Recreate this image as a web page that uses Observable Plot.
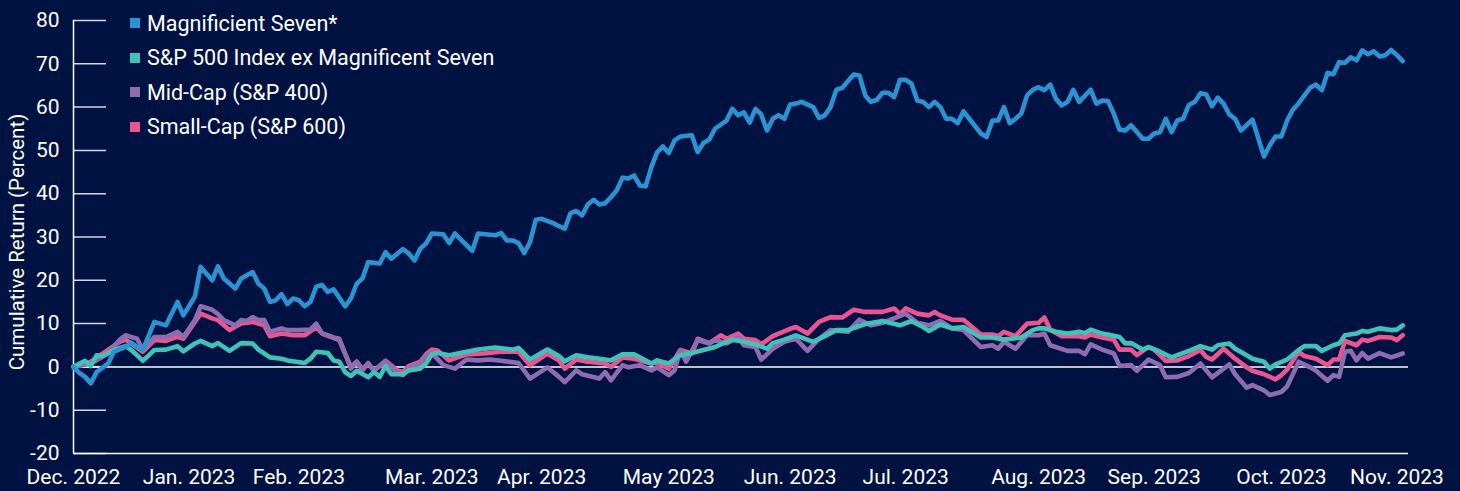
<!DOCTYPE html>
<html><head><meta charset="utf-8">
<script src="https://cdn.jsdelivr.net/npm/d3@7"></script>
<script src="https://cdn.jsdelivr.net/npm/@observablehq/plot@0.6"></script>
<style>
html,body{margin:0;padding:0;background:#001242;}
#wrap{position:relative;width:1460px;height:491px;font-family:Roboto, sans-serif;}
#wrap svg{position:absolute;left:0;top:0;}
#legend{position:absolute;left:130px;top:6px;color:#fff;font-size:21.5px;z-index:2;}
.item{display:flex;align-items:center;height:34.5px;white-space:nowrap;}
.sw{width:10px;height:10px;margin-right:7px;flex:none;}
</style></head><body><div id="wrap"><div id="legend"></div></div>
<script>
const seriesNames = ["Magnificient Seven*", "S&P 500 Index ex Magnificent Seven", "Mid-Cap (S&P 400)", "Small-Cap (S&P 600)"];
const seriesColors = ["#2b93d1", "#41c2b8", "#8d6cb0", "#ea5590"];
const monthEndDay = [0,20,39,62,81,103,124,144,167,187,209,229];
const monthLabels = ["Dec. 2022","Jan. 2023","Feb. 2023","Mar. 2023","Apr. 2023","May 2023","Jun. 2023","Jul. 2023","Aug. 2023","Sep. 2023","Oct. 2023","Nov. 2023"];
const yTicks = [-20,-10,0,10,20,30,40,50,60,70,80];
const yLabel = "Cumulative Return (Percent)";

const mag7Day = [0,1,2,3,4,6,7,9,10,11,12,14,16,18,19,21,22,24,25,26,28,29,31,32,33,34,35,36,37,38,39,40,41,42,43,44,45,47,48,49,50,51,53,54,55,57,58,59,60,61,62,64,65,66,68,69,70,73,74,75,76,77,78,79,80,81,83,84,85,86,87,88,89,90,91,92,93,94,95,96,97,98,99,100,101,102,103,104,105,107,108,109,110,111,113,114,115,116,117,118,119,120,121,122,123,124,125,126,128,129,130,131,132,133,134,135,136,137,138,139,140,141,142,143,144,145,146,147,148,149,150,151,152,153,154,155,157,158,159,160,161,162,163,164,165,166,167,168,169,170,171,172,173,174,176,177,178,179,180,181,182,183,185,186,187,188,189,190,191,192,193,194,195,196,197,198,199,200,201,202,204,206,207,208,209,210,211,212,213,214,215,216,217,218,219,220,221,222,223,224,225,226,227,228,229,230];
const mag7Val = [0,-1.4,-2.3,-3.8,-1.2,0.8,3.5,4.6,5.6,4.6,4.0,10.4,9.6,15,11.9,16.2,23.1,20,23.2,20.4,18.1,20.4,21.9,19.2,18.1,15,15.4,16.8,14.5,15.8,15.4,14,15,18.5,18.9,17.3,17.9,14,15.8,19.2,20.4,24.2,23.9,26.5,25,27.2,26.2,24.6,27.3,28.5,30.8,30.6,28.6,30.8,28.1,26.8,30.8,30.4,30.9,29.2,29.2,28.6,26.3,28.8,34,34.2,33.2,32.5,31.9,35.5,36,35,37.5,38.6,37.5,37.8,39.2,40.8,43.7,43.5,44.2,41.9,41.7,46.2,49.6,50.9,49.4,52.3,53.2,53.5,49.6,51.7,52.5,55,56.9,59.6,58.1,58.8,56.4,59.6,58.3,54.6,57.3,58.1,57.3,60.6,60.8,61.2,60,57.5,58.1,60,64,64.4,66,67.5,67.3,62.7,61.2,61.7,63.3,63.3,62.3,66.3,66.3,65.4,61.5,61.2,60,61.2,60,57.3,57.3,56.3,59,57.3,53.9,53.1,56.9,56.9,60,56.3,57.3,58.5,62.7,64,64.6,63.9,65.2,61.9,60.4,61.2,64,61.2,64,60.8,61.5,61.4,58.5,54.8,54.6,55.8,52.7,52.7,53.9,54.2,57.3,54.2,56.9,57.3,60.5,61.2,63.2,62.9,60.2,62.2,60.8,58.3,57.3,54.6,57.1,48.6,51.2,53.2,53.2,56.9,59.4,60.9,62.7,64.5,65.2,63.9,67.9,67.6,70.4,70.2,71.5,70.8,73.1,72.2,72.9,71.7,72,73.2,72,70.6];

const exDay = [0,2,3,4,5,7,9,10,11,12,14,16,18,19,21,22,24,25,27,29,31,32,34,36,37,40,41,42,44,45,46,47,48,49,51,52,53,54,55,57,58,60,61,62,63,65,68,70,73,76,77,79,82,84,85,87,89,92,93,95,97,100,101,103,105,107,109,111,113,114,116,118,120,121,123,125,128,130,132,134,137,140,143,145,147,148,150,152,154,157,159,161,164,166,167,168,170,172,174,175,176,178,179,181,182,183,185,186,188,190,191,193,195,197,198,200,201,203,204,206,207,208,210,212,213,215,216,218,219,220,222,223,224,226,228,229,230];
const exVal = [0,1.4,0.2,2.7,2.5,3.9,4.8,3.9,2.7,1.4,3.9,4,4.8,3.6,5.4,6,4.8,5.5,3.7,5.5,5.4,4,2.2,1.9,1.5,0.9,1.9,3.5,3.2,1.5,1.2,-1.2,-2.1,-0.9,-2.4,-1.2,-2.3,0.2,-1.7,-1.7,-0.8,-0.4,0.8,2.9,3.2,2.7,3.5,4,4.5,4,4.4,1.7,4,2.5,1.3,2.7,2.2,1.7,1.5,2.9,2.9,0.8,1.5,0.8,2.7,3.2,3.9,4.6,5.8,6.3,5.8,5.2,4.2,5.5,6.3,7.3,5.8,7.1,8.5,8.5,9.9,10.6,9.6,10.6,9.2,8.3,9.8,8.9,9.2,6.8,6.8,6.3,6.8,8.5,8.9,8.9,8.1,7.7,8.1,7.8,8.6,7.7,7.5,6.9,5.4,5.5,4,4.6,3.5,2.2,2.7,3.7,4.8,4,5,5.4,4.2,2.7,1.9,1.2,-0.4,0.6,1.7,3.9,4.8,4.8,3.7,5,5.4,7.3,7.7,8.3,8.1,8.9,8.5,8.6,9.6];

const midDay = [0,3,6,8,9,11,12,14,16,18,19,21,22,24,25,26,28,29,30,31,32,33,34,36,37,39,41,42,43,45,46,47,48,49,50,51,52,54,56,57,58,60,61,62,64,66,68,70,72,74,77,79,82,84,85,87,88,91,92,93,95,96,98,100,101,103,104,105,106,108,110,111,113,115,116,118,119,121,123,125,127,129,131,134,136,138,140,142,144,146,148,150,152,154,157,159,160,161,163,165,167,168,169,172,174,175,176,178,180,181,183,184,186,188,189,191,193,195,196,197,200,201,203,204,206,207,209,210,212,214,215,217,218,219,220,221,222,223,224,226,228,230];
const midVal = [0,0.8,3.1,6.3,7.3,6.5,4,6.9,6.9,8.1,6.9,10.8,14,13.2,12.2,10.8,9.6,10.8,10.6,11.5,10.8,10.8,8.1,8.9,8.5,8.5,8.6,10,7.8,6.8,6.5,3.1,-0.4,1.2,-0.8,0.9,-0.9,1.4,-1.4,-1.9,-0.4,0.8,2.5,3.2,0.4,-0.4,1.7,1.5,1.7,1.4,0.9,-2.7,-0.1,-2.3,-3.5,-0.8,-1.7,-2.7,-1.2,-3.1,0.4,-0.1,0.4,-0.8,-0.1,-1.9,-0.8,3.9,1.2,6.2,5.4,6.2,5.4,6.9,5,4.6,1.7,4.2,5.8,6.5,3.7,6.5,8.5,8.1,10.9,9.6,10.2,11.2,12.3,10.2,9.6,10.6,8.9,8.5,4.6,5,4.2,5.8,4.2,7.3,7.3,7.7,5,3.7,3.7,2.9,5.2,4,3.1,0.2,0.4,-0.9,1.7,0.4,-2.4,-2.3,-1.4,0.8,-0.8,-2.4,0.6,-1.7,-4.8,-4.2,-5.4,-6.5,-5.8,-4.5,1.2,-0.1,-0.9,-3.2,-1.9,-2.3,3.5,3.7,1.5,3.2,1.9,3.2,2.2,3.1];

const smallDay = [0,3,8,9,12,14,16,18,19,22,24,25,27,29,31,33,34,36,38,40,42,43,46,47,48,49,50,51,52,54,56,57,58,60,61,62,63,65,68,71,74,77,79,82,84,85,87,89,92,93,95,97,100,101,103,105,107,108,110,112,113,115,116,118,119,121,122,124,125,127,129,131,133,135,137,140,142,143,144,146,148,149,150,152,154,157,159,160,161,163,165,167,168,169,171,174,175,176,178,180,181,183,184,186,187,189,191,193,195,196,197,199,201,203,204,206,208,209,210,212,213,215,217,218,219,220,222,223,224,226,228,229,230];
const smallVal = [0,1.2,5.8,6.3,3.5,6.2,6,7,6.5,12.3,11.2,10.8,8.5,10,10.4,9.6,7.1,7.7,7.3,7.3,9.2,7.7,6.2,3,0,1.2,-0.5,0.8,-0.9,1.4,-0.8,-1.2,0.2,1.2,2.9,4,3.8,1.5,2.9,3.1,3.5,3.5,0.4,3.1,1.5,-0.4,1.7,1.2,0.8,0,2.2,1.9,0.8,1,-0.4,3.9,3.1,6.5,5.5,7.3,6.5,7.7,6.5,6.2,5.2,7.1,7.7,8.8,9.2,7.7,10.4,11.5,11.4,13.2,12.7,12.7,13.5,12.2,13.5,12.3,11.9,12.7,11.9,10.9,10.9,7.5,7.5,7.1,8.1,7.1,10,10.2,11.4,8.6,7.1,7.1,6.8,7.5,6.8,6.3,4,4,2.7,4.6,4,1.4,1.5,2.5,3.9,2.3,1.7,4.2,1.9,-0.1,-0.9,-1.7,-2.9,-1.9,-0.6,3.5,2.5,1.9,0.4,1.7,1.7,6,5,6.3,6,6.9,6.8,6.2,7.3];

const series = [
  {days: smallDay, vals: smallVal, color: seriesColors[3]},
  {days: midDay, vals: midVal, color: seriesColors[2]},
  {days: exDay, vals: exVal, color: seriesColors[1]},
  {days: mag7Day, vals: mag7Val, color: seriesColors[0]}
];

const chart = Plot.plot({
  width: 1460, height: 491,
  marginLeft: 73, marginRight: 52, marginTop: 20, marginBottom: 38,
  style: {background: "transparent", color: "#fff", fontFamily: "Roboto, sans-serif", fontSize: "21px"},
  x: {domain: [0, 231]},
  y: {domain: [-20, 80]},
  marks: [
    Plot.tickY(yTicks, {stroke: "#d4d7e2", strokeWidth: 1.5, insetRight: 1302}),
    Plot.ruleY([0], {stroke: "#fff", strokeWidth: 1.5}),
    Plot.ruleY([-20], {stroke: "#fff", strokeWidth: 1.5}),
    Plot.ruleX([0], {stroke: "#fff", strokeWidth: 1.5}),
    Plot.axisY({ticks: yTicks, tickSize: 0, tickPadding: 14, fontSize: 21, label: null, tickFormat: d => String(d)}),
    Plot.axisX({ticks: monthEndDay, tickSize: 0, tickPadding: 16, fontSize: 21, label: null,
      tickFormat: d => monthLabels[monthEndDay.indexOf(d)]}),
    Plot.text([yLabel], {frameAnchor: "left", textAnchor: "middle", rotate: -90, dx: -56, dy: 5, fill: "#fff", fontSize: 20.5}),
    ...series.map(s => Plot.line(s.vals, {x: s.days, y: s.vals, stroke: s.color, strokeWidth: 4.6, strokeLinejoin: "round", strokeLinecap: "round"}))
  ]
});
document.getElementById("wrap").appendChild(chart);

const legend = document.getElementById("legend");
seriesNames.forEach((name, i) => {
  const row = document.createElement("div");
  row.className = "item";
  const sw = document.createElement("span");
  sw.className = "sw";
  sw.style.background = seriesColors[i];
  const t = document.createElement("span");
  t.textContent = name;
  row.appendChild(sw); row.appendChild(t);
  legend.appendChild(row);
});
</script></body></html>
